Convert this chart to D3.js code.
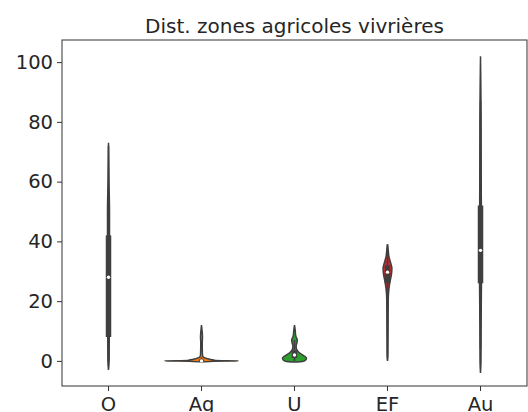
<!DOCTYPE html>
<html><head><meta charset="utf-8">
<script src="https://cdn.jsdelivr.net/npm/d3@7"></script>
<style>body{margin:0;background:#fff}svg{display:block}text{font-family:"DejaVu Sans",sans-serif;fill:#262626}</style>
</head><body><svg id="c" width="528" height="412"></svg>
<script>
const categories = ["O","Ag","U","EF","Au"];
const colors = ["#1f77b4","#ff7f0e","#2ca02c","#d62728","#9467bd"];
const yTicks = [0,20,40,60,80,100];
// violin density profiles: [value, relative density]
const densO  = [[-3,0],[0,0.015],[10,0.02],[20,0.025],[30,0.025],[40,0.025],[50,0.025],[60,0.012],[73,0]];
const densAg = [[-0.4,0],[-0.1,0.3],[0,0.92],[0.15,0.35],[0.35,0.28],[0.7,0.15],[1.2,0.05],[2,0.025],[4,0.02],[6,0.018],[8,0.025],[10,0.015],[12,0]];
const densU  = [[-0.4,0],[-0.2,0.2],[0.3,0.28],[1,0.3],[1.5,0.26],[2,0.2],[3,0.1],[4,0.05],[5,0.04],[6,0.06],[7,0.07],[8,0.04],[9,0.025],[10,0.02],[12,0]];
const densEF = [[0,0],[2,0.012],[10,0.015],[20,0.018],[24,0.035],[27,0.07],[29,0.1],[31,0.11],[33,0.075],[35,0.035],[37,0.018],[39,0]];
const densAu = [[-4,0],[0,0.012],[10,0.015],[20,0.02],[30,0.025],[40,0.025],[50,0.022],[60,0.018],[80,0.015],[90,0.01],[102,0]];
const q1 = [8, 0, 1, 26, 26];
const q3 = [42, 0.5, 3.5, 32, 52];
const medians = [28, 0, 2, 29.7, 37];
const whiskLo = [0, 0, 0, 17, 4];
const whiskHi = [72, 1.2, 7, 39, 87];
const densities = [densO, densAg, densU, densEF, densAu];

const svg = d3.select("#c");
const L=62, R=527, T=40, B=386;
const x = d3.scaleBand().domain(categories).range([L,R]);
const y = d3.scaleLinear().domain([-8.4,107.4]).range([B,T]);
const w = d3.scaleLinear().domain([0,1]).range([0,40]);

svg.append("text").attr("x",(L+R)/2).attr("y",33).attr("text-anchor","middle").attr("font-size",20).text("Dist. zones agricoles vivrières");

const g = svg.append("g");
categories.forEach((c,i)=>{
  const cx = x(c)+x.bandwidth()/2;
  const area = d3.area().y(d=>y(d[0])).x0(d=>cx-w(d[1])).x1(d=>cx+w(d[1])).curve(d3.curveMonotoneY);
  g.append("path").attr("d",area(densities[i])).attr("fill",colors[i]).attr("stroke","#3f3f3f").attr("stroke-width",1.5);
  g.append("line").attr("x1",cx).attr("x2",cx).attr("y1",y(whiskLo[i])).attr("y2",y(whiskHi[i])).attr("stroke","#3f3f3f").attr("stroke-width",1.6);
  g.append("line").attr("x1",cx).attr("x2",cx).attr("y1",y(q1[i])).attr("y2",y(q3[i])).attr("stroke","#3f3f3f").attr("stroke-width",5.5);
  g.append("circle").attr("cx",cx).attr("cy",y(medians[i])).attr("r",1.7).attr("fill","#fff");
});

const ya = svg.append("g").attr("transform",`translate(${L},0)`).call(d3.axisLeft(y).tickValues(yTicks).tickSize(5).tickPadding(4));
const xa = svg.append("g").attr("transform",`translate(0,${B})`).call(d3.axisBottom(x).tickSize(5).tickPadding(6));
[ya,xa].forEach(a=>{a.select(".domain").remove();a.selectAll("line").attr("stroke","#333");a.selectAll("text").attr("font-size",19.5).attr("fill","#262626").attr("font-family","DejaVu Sans");});
svg.append("rect").attr("x",L).attr("y",T).attr("width",R-L).attr("height",B-T).attr("fill","none").attr("stroke","#333").attr("stroke-width",1);
</script></body></html>
